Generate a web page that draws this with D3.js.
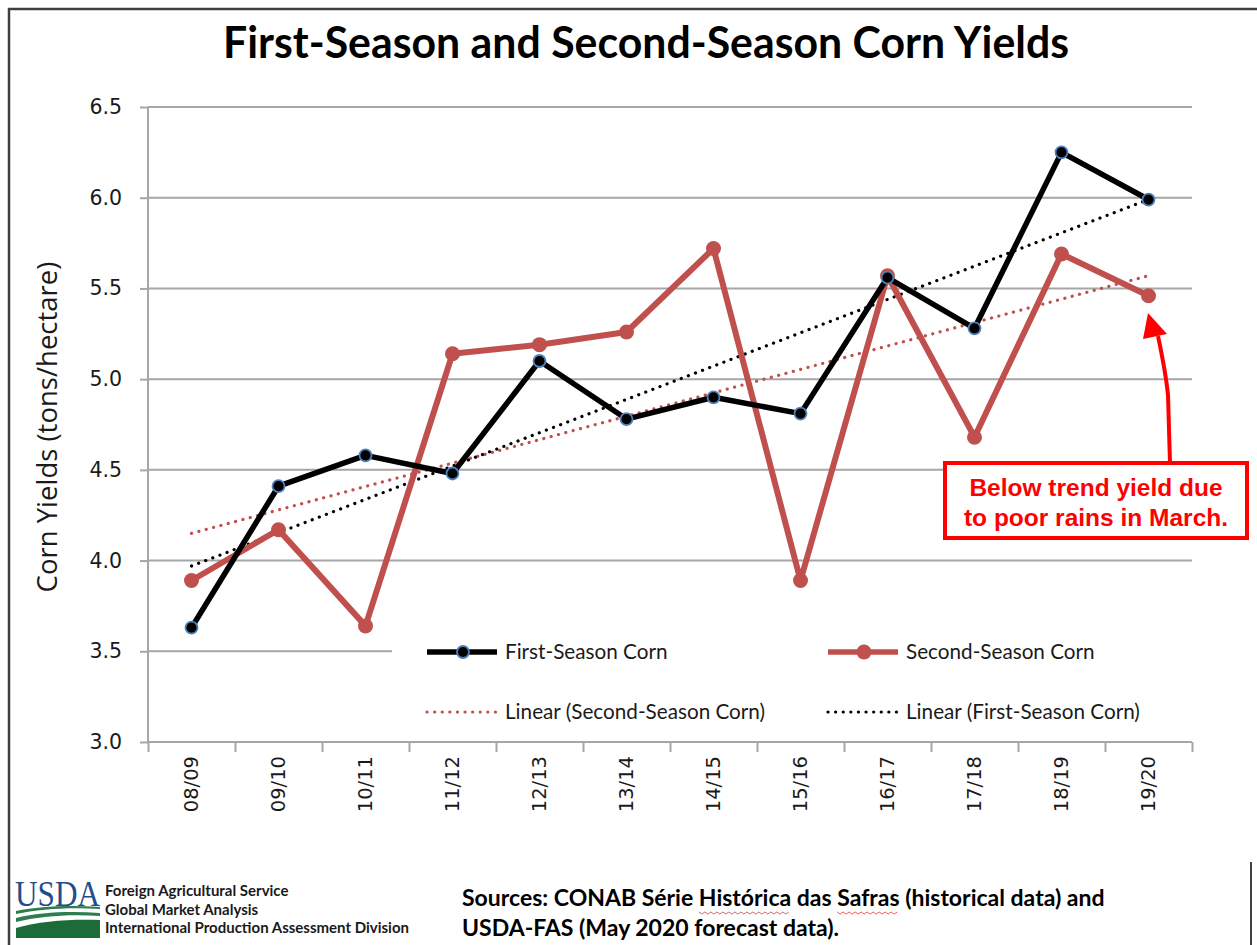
<!DOCTYPE html>
<html>
<head>
<meta charset="utf-8">
<script src="https://cdn.jsdelivr.net/npm/d3@7"></script>
<style>
  body { margin: 0; background: #fff; }
  svg { display: block; }
</style>
</head>
<body>
<div id="vis"></div>
<script>
// chart values
const seasons = ["08/09", "09/10", "10/11", "11/12", "12/13", "13/14", "14/15", "15/16", "16/17", "17/18", "18/19", "19/20"];
const firstSeason = [3.63, 4.41, 4.58, 4.48, 5.10, 4.78, 4.90, 4.81, 5.56, 5.28, 6.25, 5.99];
const secondSeason = [3.89, 4.17, 3.64, 5.14, 5.19, 5.26, 5.72, 3.89, 5.57, 4.68, 5.69, 5.46];
// trend line ends (first and last season)
const trendFirst = [3.97, 5.99];
const trendSecond = [4.15, 5.57];
const yTicks = [3.0, 3.5, 4.0, 4.5, 5.0, 5.5, 6.0, 6.5];

const W = 1257, H = 945;
const margin = { top: 107, right: 65, bottom: 203, left: 148 };

const svg = d3.select("#vis").append("svg")
    .attr("width", W)
    .attr("height", H)
    .attr("viewBox", [0, 0, W, H]);

// frame lines
svg.append("path")
    .attr("d", `M9,${H} V9 H${W}`)
    .attr("fill", "none")
    .attr("stroke", "#404040")
    .attr("stroke-width", 2.5);
svg.append("line")
    .attr("x1", 1251).attr("x2", 1251).attr("y1", 862).attr("y2", H)
    .attr("stroke", "#404040").attr("stroke-width", 2);

// title
svg.append("text")
    .attr("x", 646)
    .attr("y", 58)
    .attr("text-anchor", "middle")
    .attr("font-family", "Lato, 'Open Sans', sans-serif")
    .attr("font-weight", "bold")
    .attr("font-size", 43)
    .attr("textLength", 846)
    .attr("lengthAdjust", "spacingAndGlyphs")
    .text("First-Season and Second-Season Corn Yields");

const x = d3.scaleBand()
    .domain(seasons)
    .range([margin.left, W - margin.right]);

const y = d3.scaleLinear()
    .domain([3, 6.5])
    .range([H - margin.bottom, margin.top]);

const cx = i => x(seasons[i]) + x.bandwidth() / 2;
const gridColor = "#a6a6a6";

// gridlines
svg.append("g")
    .selectAll("line")
    .data(yTicks.slice(1))
    .join("line")
    .attr("x1", margin.left)
    .attr("x2", W - margin.right)
    .attr("y1", d => y(d))
    .attr("y2", d => y(d))
    .attr("stroke", gridColor)
    .attr("stroke-width", 2);

// y axis
svg.append("g")
    .attr("transform", `translate(${margin.left},0)`)
    .call(d3.axisLeft(y).tickValues(yTicks).tickFormat(d3.format(".1f")).tickSize(8).tickPadding(18))
    .call(g => g.selectAll("line, path").attr("stroke", gridColor).attr("stroke-width", 2))
    .call(g => g.select(".domain").attr("d", `M0,${y(3)}V${y(6.5)}`))
    .call(g => g.selectAll("text")
        .attr("fill", "#1a1a1a")
        .attr("font-family", "'DejaVu Sans', Verdana, sans-serif")
        .attr("font-size", 20.5));

// x axis: boundary ticks
const xEdges = d3.scaleLinear().domain([0, seasons.length]).range([margin.left, W - margin.right]);
svg.append("g")
    .attr("transform", `translate(0,${y(3)})`)
    .call(d3.axisBottom(xEdges).ticks(seasons.length).tickSize(10).tickFormat(""))
    .call(g => g.selectAll("line, path").attr("stroke", gridColor).attr("stroke-width", 2))
    .call(g => g.select(".domain").attr("d", `M${margin.left},0H${W - margin.right}`));

// x axis labels
svg.append("g")
    .attr("transform", `translate(0,${y(3)})`)
    .call(d3.axisBottom(x).tickSize(0))
    .call(g => g.select(".domain").remove())
    .call(g => g.selectAll("text")
        .attr("transform", "rotate(-90)")
        .attr("text-anchor", "end")
        .attr("x", -14)
        .attr("y", 0)
        .attr("dy", "0.35em")
        .attr("fill", "#1a1a1a")
        .attr("font-family", "'DejaVu Sans', Verdana, sans-serif")
        .attr("font-size", 19.5));

// y axis title
svg.append("text")
    .attr("transform", "translate(57,427) rotate(-90)")
    .attr("text-anchor", "middle")
    .attr("font-family", "'Open Sans', sans-serif")
    .attr("font-size", 27.5)
    .attr("fill", "#1a1a1a")
    .text("Corn Yields (tons/hectare)");

const red = "#c0504d";
const line = d3.line().x((d, i) => cx(i)).y(d => y(d));

// trend lines
const trendLine = d3.line().x(d => cx(d.i)).y(d => y(d.v));
svg.append("path")
    .datum([{ i: 0, v: trendSecond[0] }, { i: seasons.length - 1, v: trendSecond[1] }])
    .attr("d", trendLine)
    .attr("fill", "none")
    .attr("stroke", red)
    .attr("stroke-width", 3.2)
    .attr("stroke-linecap", "round")
    .attr("stroke-dasharray", "0.1,7.5");
svg.append("path")
    .datum([{ i: 0, v: trendFirst[0] }, { i: seasons.length - 1, v: trendFirst[1] }])
    .attr("d", trendLine)
    .attr("fill", "none")
    .attr("stroke", "#000")
    .attr("stroke-width", 3.2)
    .attr("stroke-linecap", "round")
    .attr("stroke-dasharray", "0.1,7.5");

// second season
svg.append("path")
    .datum(secondSeason)
    .attr("d", line)
    .attr("fill", "none")
    .attr("stroke", red)
    .attr("stroke-width", 6)
    .attr("stroke-linejoin", "round");
svg.append("g")
    .selectAll("circle")
    .data(secondSeason)
    .join("circle")
    .attr("cx", (d, i) => cx(i))
    .attr("cy", d => y(d))
    .attr("r", 7.5)
    .attr("fill", red);

// first season
svg.append("path")
    .datum(firstSeason)
    .attr("d", line)
    .attr("fill", "none")
    .attr("stroke", "#000")
    .attr("stroke-width", 5.5)
    .attr("stroke-linejoin", "round");
svg.append("g")
    .selectAll("circle")
    .data(firstSeason)
    .join("circle")
    .attr("cx", (d, i) => cx(i))
    .attr("cy", d => y(d))
    .attr("r", 6)
    .attr("fill", "#000")
    .attr("stroke", "#4f81bd")
    .attr("stroke-width", 1.8);

// legend (white box over the gridline, as in the original)
const legend = svg.append("g");
legend.append("rect")
    .attr("x", 392).attr("y", 628)
    .attr("width", W - margin.right - 392).attr("height", 108)
    .attr("fill", "#fff");

const legendItems = [
    { label: "First-Season Corn", color: "#000", kind: "first", col: 0, row: 0 },
    { label: "Second-Season Corn", color: red, kind: "second", col: 1, row: 0 },
    { label: "Linear (Second-Season Corn)", color: red, kind: "dot", col: 0, row: 1 },
    { label: "Linear (First-Season Corn)", color: "#000", kind: "dot", col: 1, row: 1 }
];
const li = legend.selectAll("g.item")
    .data(legendItems)
    .join("g")
    .attr("class", "item")
    .attr("transform", d => `translate(${d.col ? 828 : 427},${d.row ? 712 : 652})`);
li.append("line")
    .attr("x1", 0).attr("x2", 70)
    .attr("stroke", d => d.color)
    .attr("stroke-width", d => d.kind === "dot" ? 3.2 : 5.5)
    .attr("stroke-linecap", d => d.kind === "dot" ? "round" : "butt")
    .attr("stroke-dasharray", d => d.kind === "dot" ? "0.1,7.5" : null);
li.filter(d => d.kind === "first").append("circle")
    .attr("cx", 36).attr("r", 6)
    .attr("fill", "#000").attr("stroke", "#4f81bd").attr("stroke-width", 1.8);
li.filter(d => d.kind === "second").append("circle")
    .attr("cx", 36).attr("r", 7.5)
    .attr("fill", red);
li.append("text")
    .attr("x", 78)
    .attr("dy", "0.35em")
    .attr("font-family", "Lato, 'Open Sans', sans-serif")
    .attr("font-size", 20.7)
    .attr("fill", "#1a1a1a")
    .text(d => d.label);

// annotation
const bright = "#ff0000";
svg.append("path")
    .attr("d", "M1170,463 L1168,395 C1166,375 1162,355 1158,336")
    .attr("fill", "none")
    .attr("stroke", bright)
    .attr("stroke-width", 4);
svg.append("path")
    .attr("d", "M1148,313 L1167,334 L1143,339 Z")
    .attr("fill", bright);
svg.append("rect")
    .attr("x", 945).attr("y", 463)
    .attr("width", 302).attr("height", 75)
    .attr("fill", "#fff")
    .attr("stroke", bright)
    .attr("stroke-width", 4);
svg.append("text")
    .attr("text-anchor", "middle")
    .attr("font-family", "'Liberation Sans', Arial, sans-serif")
    .attr("font-weight", "bold")
    .attr("font-size", 24.5)
    .attr("fill", bright)
    .selectAll("tspan")
    .data(["Below trend yield due", "to poor rains in March."])
    .join("tspan")
    .attr("x", 1096)
    .attr("y", (d, i) => 496 + i * 30)
    .text(d => d);

// footer: USDA logo
const logo = svg.append("g");
logo.append("text")
    .attr("x", 15).attr("y", 906)
    .attr("font-family", "'Liberation Serif', serif")
    .attr("font-size", 36)
    .attr("fill", "#1f4e8c")
    .attr("textLength", 85)
    .attr("lengthAdjust", "spacingAndGlyphs")
    .text("USDA");
logo.append("path")
    .attr("d", "M16,911 C40,906 70,905 100,907 L100,909 C70,907 40,909 16,914 Z")
    .attr("fill", "#2e7d4f");
logo.append("path")
    .attr("d", "M16,918 C40,912 70,911 100,913 L100,916 C70,914 40,916 16,922 Z")
    .attr("fill", "#2e7d4f");
logo.append("path")
    .attr("d", "M16,928 C40,921 70,919 100,920 L100,938 L16,938 Z")
    .attr("fill", "#1e6b3a");

svg.append("g")
    .attr("font-family", "Lato, 'Open Sans', sans-serif")
    .attr("font-weight", "bold")
    .attr("font-size", 15)
    .attr("fill", "#1a1a1a")
    .selectAll("text")
    .data(["Foreign Agricultural Service", "Global Market Analysis", "International Production Assessment Division"])
    .join("text")
    .attr("x", 105)
    .attr("y", (d, i) => 896 + i * 18.5)
    .text(d => d);

// sources
const sourceLines = ["Sources: CONAB Série Histórica das Safras (historical data) and", "USDA-FAS (May 2020 forecast data)."];
const src = svg.append("g")
    .attr("font-family", "Lato, 'Open Sans', sans-serif")
    .attr("font-weight", "bold")
    .attr("font-size", 23)
    .attr("fill", "#000");
src.selectAll("text")
    .data(sourceLines)
    .join("text")
    .attr("x", 462)
    .attr("y", (d, i) => 906 + i * 30)
    .text(d => d);

// spell-check squiggles under two words
const firstSrc = src.select("text").node();
["Histórica", "Safras"].forEach(word => {
    const idx = sourceLines[0].indexOf(word);
    const x0 = 462 + firstSrc.getSubStringLength(0, idx);
    const w = firstSrc.getSubStringLength(idx, word.length);
    const pts = d3.range(0, Math.floor(w / 3) + 1).map(k => [x0 + k * 3, 912 + (k % 2 ? 2 : 0)]);
    src.append("path")
        .attr("d", d3.line()(pts))
        .attr("fill", "none")
        .attr("stroke", "#e06060")
        .attr("stroke-width", 1);
});
</script>
</body>
</html>
